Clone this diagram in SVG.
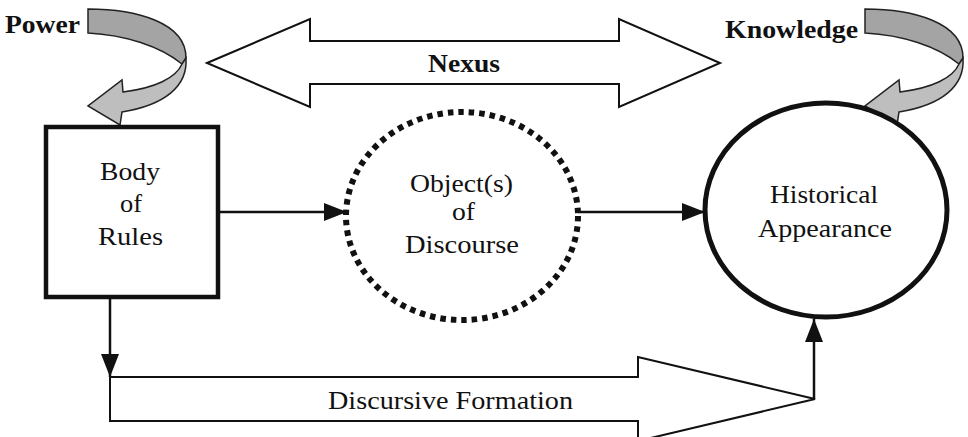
<svg xmlns="http://www.w3.org/2000/svg" xmlns:xlink="http://www.w3.org/1999/xlink" width="968" height="437" viewBox="0 0 968 437">
<style>
.t{font-family:"Liberation Serif","Times New Roman",serif;font-size:25px;fill:#111}
.b{font-weight:bold}
.ln{stroke:#111;stroke-width:2.5;fill:none}
.big{fill:#fff;stroke:#111;stroke-width:2}
.cu1{fill:#a4a4a4;stroke:#222;stroke-width:1.5}
.cu2{fill:#bebebe;stroke:#222;stroke-width:1.5}
</style>
<defs>
<marker id="ah" markerUnits="userSpaceOnUse" markerWidth="24" markerHeight="20" refX="23" refY="10" orient="auto">
<path d="M0,1 L23,10 L0,19 Z" fill="#111"/>
</marker>
<g id="curl">
<path class="cu1" d="M88,9 C135,9 186,22 186,58 L182,64 C160,46 125,35 88,33 Z"/>
<path class="cu2" d="M186,58 C188,86 165,105 122,112 L120,125 L88,106 L122,80 L123,92 C155,88 176,78 182,64 Z"/>
</g>
</defs>
<rect width="968" height="437" fill="#fff"/>

<g id="connectors">
<path class="big" d="M207,63 L310,19 L310,41 L619,41 L619,19 L720,63 L619,107 L619,84 L310,84 L310,107 Z"/>
<path class="big" d="M110,377 L638,377 L638,357 L815,399 L638,441 L638,421 L110,421 Z"/>
<line class="ln" x1="218" y1="212" x2="347" y2="212" marker-end="url(#ah)"/>
<line class="ln" x1="578" y1="212" x2="705" y2="212" marker-end="url(#ah)"/>
<line class="ln" x1="110" y1="297" x2="110" y2="377" marker-end="url(#ah)"/>
<line class="ln" x1="814" y1="399" x2="814" y2="319" marker-end="url(#ah)"/>
<use xlink:href="#curl"/>
<use xlink:href="#curl" transform="translate(777,0)"/>
</g>

<g id="power"><text class="t b" x="5" y="33" textLength="75" lengthAdjust="spacingAndGlyphs">Power</text></g>
<g id="knowledge"><text class="t b" x="725" y="38" textLength="133" lengthAdjust="spacingAndGlyphs">Knowledge</text></g>
<g id="nexus"><text class="t b" x="428" y="72" textLength="72" lengthAdjust="spacingAndGlyphs">Nexus</text></g>

<g id="body-of-rules">
<rect x="46" y="127" width="172" height="170" fill="#fff" stroke="#111" stroke-width="4.5"/>
<text class="t" x="100" y="180" textLength="60" lengthAdjust="spacingAndGlyphs">Body</text>
<text class="t" x="120" y="212" textLength="22" lengthAdjust="spacingAndGlyphs">of</text>
<text class="t" x="98" y="245" textLength="65" lengthAdjust="spacingAndGlyphs">Rules</text>
</g>

<g id="objects-of-discourse">
<ellipse cx="462" cy="216" rx="116" ry="104" fill="#fff" stroke="#111" stroke-width="6" stroke-dasharray="5.5 5"/>
<text class="t" x="410" y="192" textLength="103" lengthAdjust="spacingAndGlyphs">Object(s)</text>
<text class="t" x="452" y="220" textLength="23" lengthAdjust="spacingAndGlyphs">of</text>
<text class="t" x="405" y="253" textLength="114" lengthAdjust="spacingAndGlyphs">Discourse</text>
</g>

<g id="historical-appearance">
<ellipse cx="826" cy="210" rx="121" ry="107" fill="#fff" stroke="#111" stroke-width="5"/>
<text class="t" x="770" y="203" textLength="108" lengthAdjust="spacingAndGlyphs">Historical</text>
<text class="t" x="758" y="237" textLength="134" lengthAdjust="spacingAndGlyphs">Appearance</text>
</g>

<g id="discursive-formation"><text class="t" x="328" y="409" textLength="245" lengthAdjust="spacingAndGlyphs">Discursive Formation</text></g>
</svg>
